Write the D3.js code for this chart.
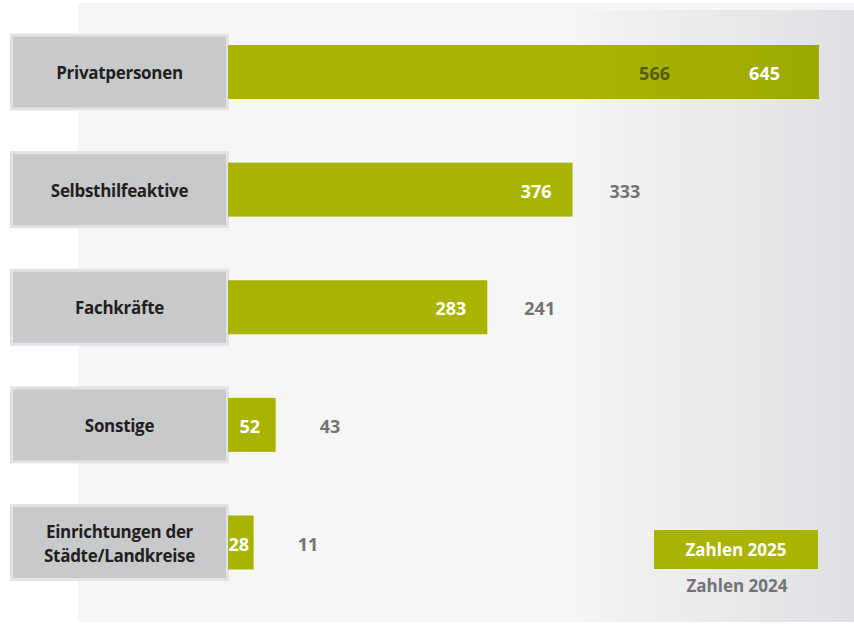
<!DOCTYPE html>
<html>
<head>
<meta charset="utf-8">
<script src="https://cdn.jsdelivr.net/npm/d3@7.9.0/dist/d3.min.js"></script>
<style>
  body { margin: 0; background: #fff; }
  svg { display: block; font-family: "Open Sans", "Noto Sans", sans-serif; font-weight: 700; }
</style>
</head>
<body>
<svg id="chart" width="854" height="625"></svg>
<script>
const categories = ["Privatpersonen", "Selbsthilfeaktive", "Fachkräfte", "Sonstige", "Einrichtungen der\nStädte/Landkreise"];
const values2025 = [645, 376, 283, 52, 28];
const values2024 = [566, 333, 241, 43, 11];
const legendLabels = ["Zahlen 2025", "Zahlen 2024"];

const svg = d3.select("#chart");
const W = 854, H = 625;
const green = "#a8b400";

const rows = categories.map((c, i) => ({ cat: c, v25: values2025[i], v24: values2024[i] }));

const x = d3.scaleLinear().domain([0, d3.max(values2025)]).range([228, 819]);
const y = d3.scalePoint().domain(categories).range([72, 542.5]);
const barH = 54;

// gradients
const defs = svg.append("defs");
const bg = defs.append("linearGradient").attr("id", "bgGrad")
  .attr("gradientUnits", "userSpaceOnUse").attr("x1", 560).attr("x2", 854).attr("y1", 0).attr("y2", 0);
bg.append("stop").attr("offset", 0).attr("stop-color", "#f6f6f6");
bg.append("stop").attr("offset", 1).attr("stop-color", "#dfe0e3");

const bar = defs.append("linearGradient").attr("id", "barGrad")
  .attr("gradientUnits", "userSpaceOnUse").attr("x1", 600).attr("x2", 854).attr("y1", 0).attr("y2", 0);
bar.append("stop").attr("offset", 0).attr("stop-color", green);
bar.append("stop").attr("offset", 1).attr("stop-color", "#9aa700");

// background panel
svg.append("rect").attr("x", 78).attr("y", 3).attr("width", W - 78).attr("height", 619).attr("fill", "#f6f6f6");
svg.append("rect").attr("x", 560).attr("y", 10).attr("width", W - 560).attr("height", 612).attr("fill", "url(#bgGrad)");

const g = svg.append("g");

// category boxes
const boxes = g.selectAll("g.cat").data(rows).join("g").attr("class", "cat");
boxes.append("rect")
  .attr("x", 10).attr("y", d => y(d.cat) - 38.5)
  .attr("width", 219).attr("height", 77)
  .attr("fill", "#e2e3e4");
boxes.append("rect")
  .attr("x", 13).attr("y", d => y(d.cat) - 35.5)
  .attr("width", 213).attr("height", 71)
  .attr("fill", "#c8c9cb");
boxes.each(function(d) {
  const lines = d.cat.split("\n");
  const t = d3.select(this).append("text")
    .attr("text-anchor", "middle")
    .attr("fill", "#231f20")
    .attr("font-size", 17)
    .attr("letter-spacing", -0.3);
  lines.forEach((l, i) => {
    t.append("tspan")
      .attr("x", 119.5)
      .attr("y", y(d.cat) + 7 + (i - (lines.length - 1) / 2) * 24)
      .text(l);
  });
});

// bars
g.selectAll("rect.bar").data(rows).join("rect")
  .attr("class", "bar")
  .attr("x", x(0))
  .attr("y", d => y(d.cat) - barH / 2)
  .attr("width", d => x(d.v25) - x(0))
  .attr("height", barH)
  .attr("fill", "url(#barGrad)");

// value labels
rows.forEach(d => {
  const end = x(d.v25);
  const w = end - x(0);
  const inside = end + 100 > W; // no room for the 2024 number
  const t25 = g.append("text")
    .attr("y", y(d.cat) + 8)
    .attr("fill", "#fff")
    .attr("font-size", 18)
    .text(d.v25);
  if (w < 60) {
    t25.attr("text-anchor", "middle").attr("x", x(0) + w / 2 - 2);
  } else {
    t25.attr("text-anchor", "end").attr("x", end - (inside ? 39 : 21));
  }
  g.append("text")
    .attr("y", y(d.cat) + 8)
    .attr("font-size", 18)
    .attr("fill", inside ? "#565c10" : "#737373")
    .attr("text-anchor", inside ? "end" : "start")
    .attr("x", inside ? end - 149 : end + (w < 60 ? 44 : 37))
    .text(d.v24);
});

// legend
const lg = svg.append("g");
lg.append("rect").attr("x", 654).attr("y", 530).attr("width", 164).attr("height", 39).attr("fill", green);
lg.append("text").attr("x", 736).attr("y", 556).attr("text-anchor", "middle")
  .attr("fill", "#fff").attr("font-size", 17).text(legendLabels[0]);
lg.append("text").attr("x", 737).attr("y", 592).attr("text-anchor", "middle")
  .attr("fill", "#737373").attr("font-size", 17).text(legendLabels[1]);
</script>
</body>
</html>
